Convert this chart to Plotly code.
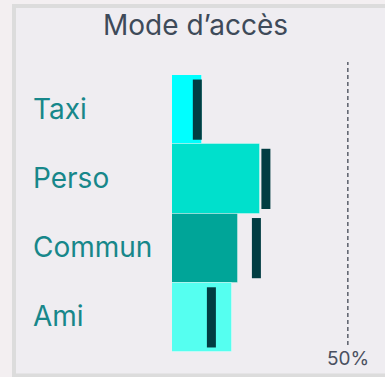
import plotly.graph_objects as go

# Access mode shares (%) and reference markers (%)
categories = ["Taxi", "Perso", "Commun", "Ami"]
shares = [8.4, 24.9, 18.9, 17.0]
targets = [7.2, 26.7, 24.0, 11.2]
bar_colors = ["#00ffff", "#00e0cc", "#00a598", "#55fff0"]
reference_line = 50
reference_label = "50%"
title_text = "Mode d’accès"

FONT = "Inter"
W, H = 385, 377
L, R, T, B = 172, 2, 75, 25
pw, ph = W - L - R, H - T - B


def px_x(px):
    return (px - L) / pw


def px_y(py):
    return (H - B - py) / ph


fig = go.Figure()

fig.add_trace(go.Bar(
    x=shares, y=categories, orientation="h",
    marker=dict(color=bar_colors, line=dict(width=1, color="rgba(255,255,255,0.35)")),
    width=1.0, hoverinfo="skip", showlegend=False,
))

fig.add_trace(go.Scatter(
    x=targets, y=categories, mode="markers",
    marker=dict(symbol="line-ns", size=43,
                line=dict(width=9, color="#013d42")),
    hoverinfo="skip", showlegend=False,
))

shapes = [
    # panel frame
    dict(type="rect", xref="paper", yref="paper",
         x0=px_x(14), x1=px_x(W + 10), y0=px_y(375.5), y1=px_y(6),
         line=dict(color="#dcdcdc", width=4), fillcolor="#efedf1", layer="below"),
    # reference line
    dict(type="line", xref="x", yref="paper",
         x0=reference_line, x1=reference_line, y0=px_y(345), y1=px_y(62),
         line=dict(color="#5a5f6a", width=1.5, dash="4px,3px")),
]

annotations = [
    dict(text=title_text, xref="paper", yref="paper", x=px_x(195), y=px_y(25.5),
         xanchor="center", yanchor="middle", showarrow=False,
         font=dict(family=FONT, size=28, color="#3e4a59")),
    dict(text=reference_label, xref="x", yref="paper", x=reference_line, y=px_y(358.5),
         xanchor="center", yanchor="middle", showarrow=False,
         font=dict(family=FONT, size=19, color="#4a5060")),
]
for c in categories:
    annotations.append(dict(
        text=c, xref="paper", yref="y", x=px_x(31), y=c,
        xanchor="left", yanchor="middle", yshift=1, showarrow=False,
        font=dict(family=FONT, size=28, color="#17878a")))

fig.update_layout(
    width=W, height=H,
    margin=dict(l=L, r=R, t=T, b=B),
    paper_bgcolor="#f3eff1", plot_bgcolor="rgba(0,0,0,0)",
    bargap=0,
    xaxis=dict(range=[0, 60], visible=False, fixedrange=True),
    yaxis=dict(categoryorder="array", categoryarray=categories[::-1],
               range=[-0.5, 3.5], visible=False, fixedrange=True),
    shapes=shapes, annotations=annotations,
)

fig.write_html("out.html", config={"displayModeBar": False})
